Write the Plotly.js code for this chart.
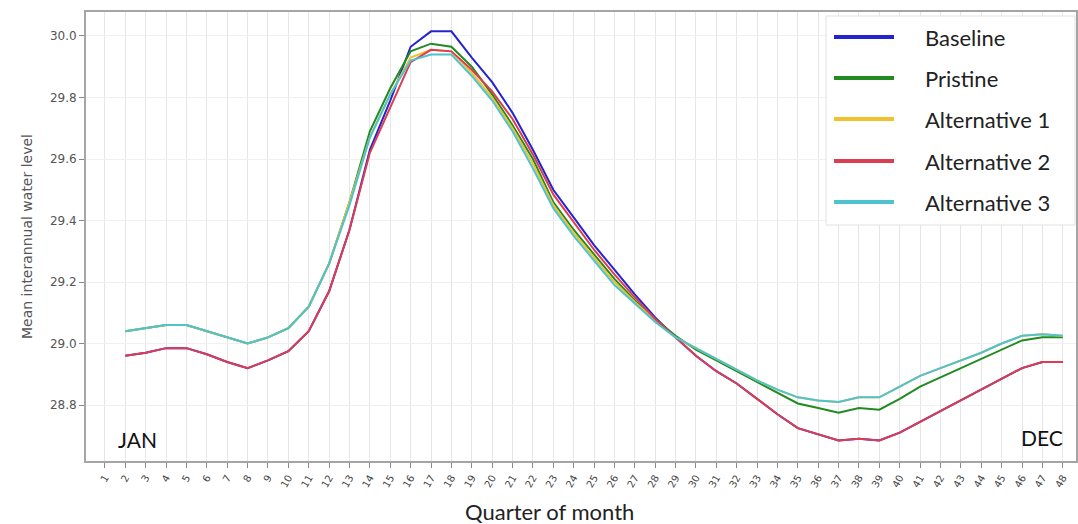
<!DOCTYPE html>
<html><head><meta charset="utf-8">
<script src="https://cdn.plot.ly/plotly-3.0.1.min.js"></script>
<style>html,body{margin:0;padding:0;background:#fff}#chart{width:1078px;height:524px}</style>
</head><body><div id="chart"></div>
<script>
// ---- data ----
const quarter = [2,3,4,5,6,7,8,9,10,11,12,13,14,15,16,17,18,19,20,21,22,23,24,25,26,27,28,29,30,31,32,33,34,35,36,37,38,39,40,41,42,43,44,45,46,47,48];
const tickQuarters = [1,2,3,4,5,6,7,8,9,10,11,12,13,14,15,16,17,18,19,20,21,22,23,24,25,26,27,28,29,30,31,32,33,34,35,36,37,38,39,40,41,42,43,44,45,46,47,48];
const tickLabels = ["1","2","3","4","5","6","7","8","9","10","11","12","13","14","15","16","17","18","19","20","21","22","23","24","25","26","27","28","29","30","31","32","33","34","35","36","37","38","39","40","41","42","43","44","45","46","47","48"];
const yTicks = [28.8, 29.0, 29.2, 29.4, 29.6, 29.8, 30.0];

const baseline = [28.96,28.97,28.985,28.985,28.965,28.94,28.92,28.945,28.975,29.04,29.17,29.37,29.63,29.79,29.965,30.015,30.015,29.93,29.85,29.75,29.63,29.50,29.41,29.32,29.24,29.16,29.085,29.02,28.96,28.91,28.87,28.82,28.77,28.725,28.705,28.685,28.69,28.685,28.71,28.745,28.78,28.815,28.85,28.885,28.92,28.94,28.94];
const pristine = [29.04,29.05,29.06,29.06,29.04,29.02,29.00,29.02,29.05,29.12,29.26,29.46,29.69,29.83,29.95,29.975,29.965,29.90,29.81,29.71,29.60,29.46,29.37,29.29,29.21,29.14,29.08,29.025,28.98,28.945,28.91,28.875,28.84,28.805,28.79,28.775,28.79,28.785,28.82,28.86,28.89,28.92,28.95,28.98,29.01,29.02,29.02];
const alternative1 = [29.04,29.05,29.06,29.06,29.04,29.02,29.00,29.02,29.05,29.12,29.26,29.46,29.67,29.81,29.93,29.955,29.95,29.88,29.80,29.70,29.585,29.45,29.36,29.28,29.20,29.135,29.075,29.02,28.985,28.95,28.915,28.88,28.85,28.825,28.815,28.81,28.825,28.825,28.86,28.895,28.92,28.945,28.97,29.00,29.025,29.03,29.025];
const alternative2 = [28.96,28.97,28.985,28.985,28.965,28.94,28.92,28.945,28.975,29.04,29.17,29.37,29.62,29.77,29.915,29.955,29.95,29.89,29.82,29.73,29.615,29.485,29.395,29.305,29.225,29.15,29.08,29.02,28.96,28.91,28.87,28.82,28.77,28.725,28.705,28.685,28.69,28.685,28.71,28.745,28.78,28.815,28.85,28.885,28.92,28.94,28.94];
const alternative3 = [29.04,29.05,29.06,29.06,29.04,29.02,29.00,29.02,29.05,29.12,29.26,29.45,29.67,29.81,29.92,29.94,29.94,29.87,29.79,29.69,29.57,29.44,29.35,29.27,29.19,29.13,29.07,29.02,28.985,28.95,28.915,28.88,28.85,28.825,28.815,28.81,28.825,28.825,28.86,28.895,28.92,28.945,28.97,29.00,29.025,29.03,29.025];

const seriesNames = ["Baseline","Pristine","Alternative 1","Alternative 2","Alternative 3"];
const seriesColors = ["#2424cf","#218a21","#f2c12e","#dc3d50","#4fc2cf"];
const seriesValues = [baseline, pristine, alternative1, alternative2, alternative3];

// ---- layout helpers (pixel -> paper) ----
const L = 86, R = 1076, T = 12, B = 461;
const px = x => (x - L) / (R - L);
const py = y => (B - y) / (B - T);
const textFont = "Lato, 'Open Sans', sans-serif";

const traces = seriesValues.map((v, i) => ({
  type: "scatter", mode: "lines", x: quarter, y: v, name: seriesNames[i],
  line: {color: seriesColors[i], width: 2}, showlegend: false, hoverinfo: "x+y+name"
}));

const legendY = [37, 78, 119, 161, 202];
const shapes = [{
  type: "rect", xref: "paper", yref: "paper",
  x0: px(826), x1: px(1075), y0: py(225), y1: py(16),
  fillcolor: "#ffffff", line: {color: "#e2e2e2", width: 1}, layer: "above"
}];
const annotations = [];
seriesNames.forEach((n, i) => {
  shapes.push({type: "line", xref: "paper", yref: "paper",
    x0: px(834), x1: px(894), y0: py(legendY[i]), y1: py(legendY[i]),
    line: {color: seriesColors[i], width: 4}, layer: "above"});
  annotations.push({xref: "paper", yref: "paper", x: px(923), y: py(legendY[i]),
    xanchor: "left", yanchor: "middle", showarrow: false, text: n,
    font: {family: textFont, size: 22, color: "#222"}});
});
annotations.push({xref: "paper", yref: "paper", x: px(116), y: py(439), xanchor: "left", yanchor: "middle",
  showarrow: false, text: "JAN", font: {family: textFont, size: 21, color: "#111"}});
annotations.push({xref: "paper", yref: "paper", x: px(1065), y: py(437), xanchor: "right", yanchor: "middle",
  showarrow: false, text: "DEC", font: {family: textFont, size: 21, color: "#111"}});
// x-axis title (placed as in the reference, left of the plot centre)
annotations.push({xref: "paper", yref: "paper", x: px(549), y: py(511), xanchor: "center", yanchor: "middle",
  showarrow: false, text: "Quarter of month", font: {family: textFont, size: 22, color: "#222"}});

const layout = {
  width: 1078, height: 524,
  margin: {l: L, r: 1078 - R, t: T, b: 524 - B},
  paper_bgcolor: "#ffffff", plot_bgcolor: "#ffffff",
  showlegend: false,
  xaxis: {
    range: [0.07, 48.65], tickmode: "array", tickvals: tickQuarters, ticktext: tickLabels,
    tickangle: -60, tickfont: {family: "DejaVu Sans, sans-serif", size: 10, color: "#444"},
    showgrid: true, gridcolor: "#e6e6e6", gridwidth: 1,
    showline: true, mirror: true, linecolor: "#a5a5a5", linewidth: 2,
    ticks: "outside", ticklen: 5, tickcolor: "#888", zeroline: false
  },
  yaxis: {
    range: [28.618, 30.078], tickmode: "array", tickvals: yTicks, ticktext: yTicks.map(v => v.toFixed(1)),
    tickfont: {family: "DejaVu Sans, sans-serif", size: 12, color: "#555"},
    showgrid: true, gridcolor: "#f0f0f0", gridwidth: 1,
    showline: true, mirror: true, linecolor: "#a5a5a5", linewidth: 2,
    ticks: "outside", ticklen: 5, tickcolor: "#888", zeroline: false,
    title: {text: "Mean interannual water level", standoff: 14, font: {family: "DejaVu Sans, sans-serif", size: 14, color: "#555"}}
  },
  shapes: shapes,
  annotations: annotations
};

Plotly.newPlot("chart", traces, layout, {displayModeBar: false, staticPlot: true});
</script></body></html>
